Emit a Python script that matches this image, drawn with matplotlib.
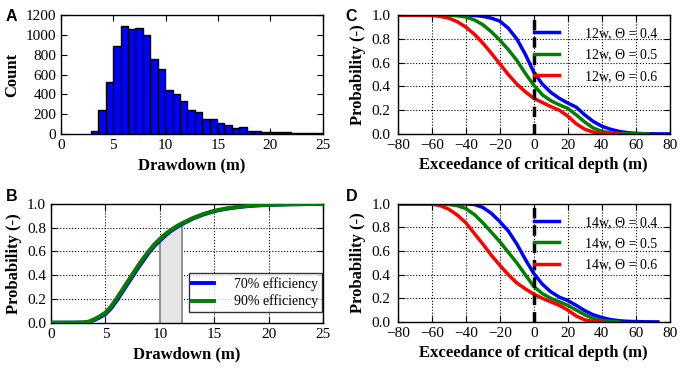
import numpy as np
import matplotlib
matplotlib.use("Agg")
import matplotlib.pyplot as plt

plt.rcParams["font.family"] = ["Liberation Serif", "DejaVu Serif"]
plt.rcParams["font.size"] = 11
plt.rcParams["xtick.direction"] = "in"
plt.rcParams["ytick.direction"] = "in"
plt.rcParams["xtick.top"] = True
plt.rcParams["ytick.right"] = True
plt.rcParams["xtick.major.size"] = 4
plt.rcParams["ytick.major.size"] = 4
plt.rcParams["axes.linewidth"] = 1.0

# --- A: histogram of drawdown ---
BIN_START = 2.86
BIN_WIDTH = 0.708
COUNTS = [27, 243, 524, 885, 1095, 1064, 1071, 1003, 760, 659, 449, 402,
          334, 240, 224, 148, 152, 110, 92, 64, 66, 30, 32, 22, 24, 15, 15,
          14, 7, 10, 7, 7]

# --- B: CDF of drawdown ---
DD_X = [0, 2, 3, 3.5, 4, 4.5, 5, 5.5, 6, 6.5, 7, 7.5, 8, 8.5, 9, 9.5, 10,
        10.5, 11, 11.5, 12, 13, 14, 15, 16, 17, 18, 19, 20, 22, 25]
CDF_70 = [0, 0, 0.001, 0.007, 0.022, 0.045, 0.072, 0.118, 0.18, 0.25, 0.32,
          0.39, 0.46, 0.525, 0.59, 0.645, 0.69, 0.733, 0.77, 0.80, 0.827,
          0.874, 0.91, 0.938, 0.957, 0.97, 0.98, 0.987, 0.991, 0.996, 1.0]
CDF_90 = [0, 0, 0.002, 0.01, 0.03, 0.055, 0.085, 0.135, 0.2, 0.27, 0.34,
          0.41, 0.48, 0.545, 0.605, 0.66, 0.705, 0.745, 0.78, 0.81, 0.835,
          0.88, 0.915, 0.942, 0.96, 0.973, 0.982, 0.988, 0.992, 0.997, 1.0]
SPAN = (10, 12)

# --- C: 12 wells exceedance ---
C_X04 = [-80, -40, -35, -30, -25, -20, -15, -10, -5, 0, 5, 10, 15, 20, 25,
         30, 35, 40, 45, 50, 55, 60, 65, 70, 80]
C_Y04 = [1, 1, 0.998, 0.99, 0.975, 0.95, 0.89, 0.80, 0.67, 0.52, 0.42, 0.35,
         0.30, 0.26, 0.225, 0.16, 0.105, 0.065, 0.04, 0.022, 0.011, 0.005,
         0.002, 0.001, 0]
C_X05 = [-80, -50, -45, -40, -35, -30, -25, -20, -15, -10, -5, 0, 5, 10, 15,
         20, 25, 30, 35, 40, 45, 50, 55, 60, 67]
C_Y05 = [1, 1, 0.995, 0.985, 0.96, 0.92, 0.86, 0.79, 0.71, 0.62, 0.51, 0.41,
         0.33, 0.28, 0.245, 0.215, 0.16, 0.1, 0.05, 0.022, 0.009, 0.004,
         0.002, 0.001, 0]
C_X06 = [-80, -60, -55, -50, -45, -40, -35, -30, -25, -20, -15, -10, -5, 0,
         5, 10, 15, 20, 25, 30, 35, 40, 45, 50]
C_Y06 = [1, 0.998, 0.99, 0.975, 0.945, 0.9, 0.84, 0.765, 0.68, 0.59, 0.5,
         0.42, 0.355, 0.30, 0.265, 0.23, 0.2, 0.15, 0.085, 0.04, 0.015,
         0.005, 0.001, 0]

# --- D: 14 wells exceedance ---
D_X04 = [-80, -40, -35, -30, -25, -20, -15, -10, -5, 0, 5, 10, 15, 20, 25,
         30, 35, 40, 45, 50, 55, 60, 65, 73]
D_Y04 = [1, 1, 0.995, 0.97, 0.92, 0.85, 0.77, 0.66, 0.53, 0.41, 0.32, 0.255,
         0.21, 0.18, 0.14, 0.095, 0.06, 0.037, 0.02, 0.01, 0.005, 0.003,
         0.001, 0]
D_X05 = [-80, -55, -50, -45, -40, -35, -30, -25, -20, -15, -10, -5, 0, 5,
         10, 15, 20, 25, 30, 35, 40, 45, 50]
D_Y05 = [1, 1, 0.995, 0.985, 0.96, 0.91, 0.84, 0.76, 0.68, 0.59, 0.50, 0.40,
         0.30, 0.24, 0.2, 0.17, 0.14, 0.1, 0.06, 0.03, 0.012, 0.004, 0]
D_X06 = [-80, -65, -60, -55, -50, -45, -40, -35, -30, -25, -20, -15, -10,
         -5, 0, 5, 10, 15, 20, 25, 30, 35, 40]
D_Y06 = [1, 1, 0.998, 0.985, 0.955, 0.905, 0.84, 0.75, 0.66, 0.565, 0.48,
         0.40, 0.33, 0.28, 0.235, 0.20, 0.17, 0.14, 0.10, 0.05, 0.017, 0.004,
         0]

THETAS = ["0.4", "0.5", "0.6"]
COLORS = ["#0000ff", "#007f00", "#ff0000"]

fig = plt.figure(figsize=(6.8, 3.7), dpi=100)
axA = fig.add_axes([0.0897, 0.638, 0.385, 0.321])
axB = fig.add_axes([0.075, 0.128, 0.400, 0.321])
axC = fig.add_axes([0.585, 0.638, 0.400, 0.321])
axD = fig.add_axes([0.585, 0.130, 0.400, 0.319])

bold = dict(fontweight="bold", fontsize=12)

# A
lefts = BIN_START + BIN_WIDTH * np.arange(len(COUNTS))
axA.bar(lefts, COUNTS, width=BIN_WIDTH, align="edge", color="#0000ff",
        edgecolor="black", linewidth=1.0)
axA.set_xlim(0, 25)
axA.set_ylim(0, 1200)
axA.set_yticks(range(0, 1201, 200))
axA.set_xlabel("Drawdown (m)", **bold)
axA.set_ylabel("Count", **bold)

# B: shaded band under the curve between 10 and 12 m
dd = np.array(DD_X, dtype=float)
c70 = np.array(CDF_70)
band = (dd >= SPAN[0]) & (dd <= SPAN[1])
axB.fill_between(dd[band], 0, c70[band], color="#e6e6e6", zorder=1)
for v in SPAN:
    axB.vlines(v, 0, c70[dd == v][0], color="#808080", lw=1.2, zorder=1.5)
axB.plot(DD_X, CDF_70, color="#0000ff", lw=2.8, label="70% efficiency", zorder=3)
axB.plot(DD_X, CDF_90, color="#007f00", lw=2.8, label="90% efficiency", zorder=3)
axB.set_xlim(0, 25)
axB.set_ylim(0, 1.0)
axB.set_yticks(np.arange(0, 1.01, 0.2))
axB.set_yticklabels([f"{t:.1f}" for t in np.arange(0, 1.01, 0.2)])
axB.grid(True, ls=":", color="black", lw=0.8)
axB.set_axisbelow(True)
axB.set_xlabel("Drawdown (m)", **bold)
axB.set_ylabel("Probability (-)", **bold)
leg = axB.legend(loc="lower right", bbox_to_anchor=(0.995, 0.09), fontsize=10,
                 frameon=True, fancybox=False, handlelength=1.6,
                 handletextpad=1.4, borderpad=0.25, labelspacing=0.3,
                 borderaxespad=0.0)
leg.get_frame().set_edgecolor("black")
leg.get_frame().set_linewidth(1.0)

# C and D
for ax, wells, series in [
        (axC, "12w", [(C_X04, C_Y04), (C_X05, C_Y05), (C_X06, C_Y06)]),
        (axD, "14w", [(D_X04, D_Y04), (D_X05, D_Y05), (D_X06, D_Y06)])]:
    for (x, y), th, c in zip(series, THETAS, COLORS):
        ax.plot(x, y, color=c, lw=2.5, label=f"{wells}, \u0398 = {th}")
    ax.axvline(0, color="black", lw=2.5, ls=(0, (3, 2)))
    ax.set_xlim(-80, 80)
    ax.set_ylim(0, 1.0)
    ax.set_xticks(range(-80, 81, 20))
    ax.set_yticks(np.arange(0, 1.01, 0.2))
    ax.set_yticklabels([f"{t:.1f}" for t in np.arange(0, 1.01, 0.2)])
    ax.tick_params(axis="y", pad=5)
    ax.grid(True, ls=":", color="black", lw=0.8)
    ax.set_axisbelow(True)
    ax.set_xlabel("Exceedance of critical depth (m)", **bold)
    ax.set_ylabel("Probability (-)", **bold)
    ax.legend(loc="upper right", bbox_to_anchor=(0.975, 0.945), frameon=False,
              fontsize=10, handlelength=1.8, handletextpad=1.9,
              labelspacing=0.6, borderaxespad=0.0)

for ax, letter, (x, y) in [(axA, "A", (0.008, 0.975)), (axB, "B", (0.008, 0.488)),
                           (axC, "C", (0.508, 0.975)), (axD, "D", (0.508, 0.488))]:
    fig.text(x, y, letter, fontsize=11.5, fontweight="bold",
             family=["Liberation Sans", "DejaVu Sans"], va="top")

fig.savefig("out.png", dpi=100)
